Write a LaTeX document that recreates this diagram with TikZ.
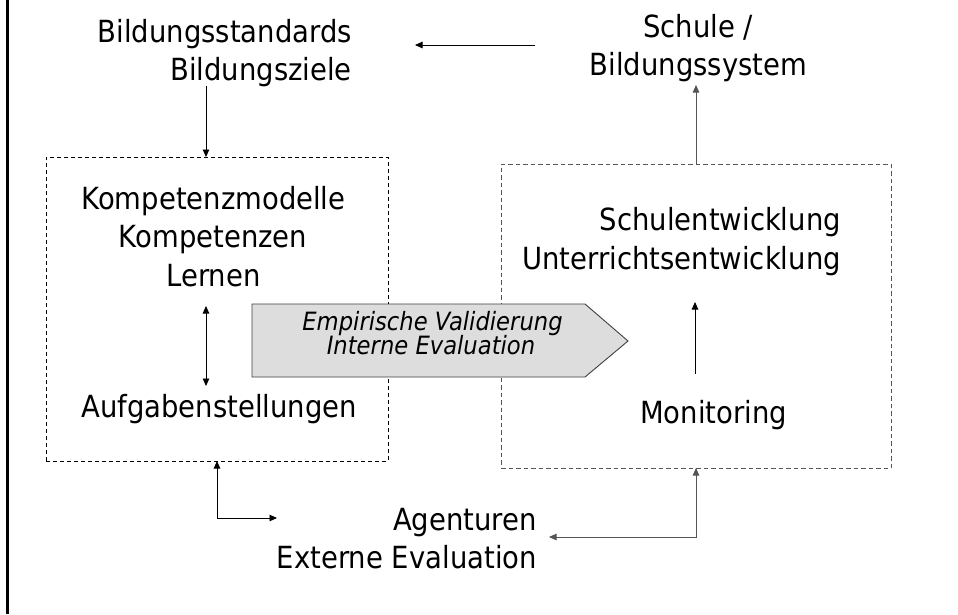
\documentclass[tikz,border=0pt]{standalone}
\usepackage{fontspec}
\setmainfont{DejaVu Sans}[FakeStretch=0.9]
\usetikzlibrary{arrows.meta}
\definecolor{arrfill}{HTML}{DDDDDD}
\definecolor{darkline}{HTML}{404040}
\definecolor{greyline}{HTML}{555555}
\begin{document}
\begin{tikzpicture}[x=1pt,y=-1pt,
  txt/.style={inner sep=0pt, font=\fontsize{30.5}{36}\selectfont},
  lbl/.style={inner sep=0pt, font=\fontsize{25.2}{29}\selectfont\itshape},
  arr/.style={-{Triangle[length=7.5pt,width=6.5pt]}, line width=0.9pt},
  dbl/.style={{Triangle[length=7.5pt,width=6.5pt]}-{Triangle[length=7.5pt,width=6.5pt]}, line width=0.9pt},
  lboxst/.style={draw=black, line width=0.8pt, dash pattern=on 4pt off 3pt, inner sep=0pt, outer sep=0pt},
  rboxst/.style={draw=greyline, line width=0.9pt, dash pattern=on 4.5pt off 3pt, inner sep=0pt, outer sep=0pt}]
\useasboundingbox (0,0) rectangle (958,614);
\fill[white] (0,0) rectangle (958,614);
% left border
\draw[line width=3pt] (7,0) -- (7,614);

% boxes
\node[lboxst, minimum width=342pt, minimum height=304pt] (lbox) at (217,309) {};
\node[rboxst, minimum width=390pt, minimum height=304pt] (rbox) at (696,316) {};

% texts
\node[txt, anchor=base east] (bs1) at (352,42) {Bildungsstandards};
\node[txt, anchor=base east] (bs2) at (352,80) {Bildungsziele};
\node[txt, anchor=base] (sch1) at (698,37) {Schule /};
\node[txt, anchor=base] (sch2) at (698.5,75) {Bildungssystem};
\node[txt, anchor=base] (k1) at (213.5,209) {Kompetenzmodelle};
\node[txt, anchor=base] (k2) at (213,247) {Kompetenzen};
\node[txt, anchor=base] (k3) at (213.5,286) {Lernen};
\node[txt, anchor=base] (auf) at (219,417) {Aufgabenstellungen};
\node[txt, anchor=base east] (se1) at (841,230) {Schulentwicklung};
\node[txt, anchor=base east] (se2) at (841,269) {Unterrichtsentwicklung};
\node[txt, anchor=base] (mon) at (713.5,423) {Monitoring};
\node[txt, anchor=base east] (ag1) at (537,530) {Agenturen};
\node[txt, anchor=base east] (ag2) at (537,568) {Externe Evaluation};

% big arrow shape
\coordinate (ev1) at (252,304);
\coordinate (ev2) at (585,304);
\coordinate (evtip) at (628,341);
\coordinate (ev3) at (585,377);
\coordinate (ev4) at (252,377);
\filldraw[fill=arrfill, draw=darkline, line width=0.9pt] (ev1) -- (ev2) -- (evtip) -- (ev3) -- (ev4) -- cycle;
\node[lbl, anchor=base] (emp) at (432.5,330) {Empirische Validierung};
\node[lbl, anchor=base] (int) at (431,354) {Interne Evaluation};

% connectors
\coordinate (topR) at (535,45);
\coordinate (topL) at (415,45);
\draw[arr] (topR) -- (topL);

\coordinate (bzdown) at (206,86);
\draw[arr] (bzdown) -- ([xshift=-11pt]lbox.north);

\coordinate (schbot) at (696,85);
\draw[arr, color=greyline] (rbox.north) -- (schbot);

\coordinate (kU) at (206,306);
\coordinate (kD) at (206,386);
\draw[dbl] (kU) -- (kD);

\coordinate (monU) at (695,374);
\coordinate (monT) at (695,302);
\draw[arr] (monU) -- (monT);

\coordinate (lcorner) at (217,518);
\coordinate (lend) at (277,518);
\draw[dbl] (lbox.south) -- (lcorner) -- (lend);

\coordinate (rcorner) at (696,537);
\coordinate (rend) at (549,537);
\draw[dbl, color=greyline] (rbox.south) -- (rcorner) -- (rend);
\end{tikzpicture}
\end{document}
